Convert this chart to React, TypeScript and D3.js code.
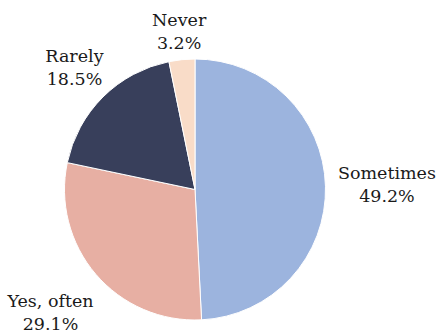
import React from "react";
import * as d3 from "d3";

const categories = ["Sometimes", "Yes, often", "Rarely", "Never"];
const values = [49.2, 29.1, 18.5, 3.2];
const colors = ["#9CB4DE", "#E7AFA3", "#383F5B", "#F9DCC8"];

const W = 441;
const H = 333;
const cx = 195;
const cy = 189.5;
const radius = 130.5;
const labelRadius = [192, 190, 171, 158];

export default function App() {
  const pie = d3.pie<number>().sort(null).value((d) => d);
  const arcs = pie(values);
  const arc = d3.arc<d3.PieArcDatum<number>>().innerRadius(0).outerRadius(radius);
  return (
    <svg width={W} height={H} style={{ position: "absolute", left: 0, top: 0 }}>
      <g transform={`translate(${cx},${cy})`}>
        {arcs.map((a, i) => (
          <path key={i} d={arc(a) || ""} fill={colors[i]} stroke="#ffffff" strokeWidth={1} />
        ))}
        {arcs.map((a, i) => {
          const mid = (a.startAngle + a.endAngle) / 2;
          const lr = labelRadius[i];
          const x = lr * Math.sin(mid);
          const y = -lr * Math.cos(mid);
          return (
            <text
              key={"t" + i}
              x={x}
              y={y}
              textAnchor="middle"
              fontFamily="'DejaVu Serif', serif"
              fontSize={17.5}
              fill="#1a1a1a"
            >
              <tspan x={x} dy={-6}>{categories[i]}</tspan>
              <tspan x={x} dy={23}>{values[i].toFixed(1) + "%"}</tspan>
            </text>
          );
        })}
      </g>
    </svg>
  );
}
